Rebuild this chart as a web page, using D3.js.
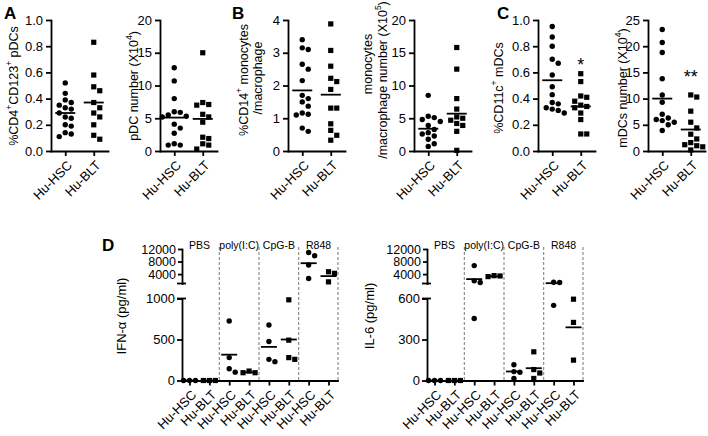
<!DOCTYPE html>
<html><head><meta charset="utf-8">
<script src="https://cdn.jsdelivr.net/npm/d3@7"></script>
<style>
body{margin:0;background:#fff}
svg text{font-family:"Liberation Sans",Arial,Helvetica,sans-serif;fill:#000}
</style>
</head><body><svg id="c" width="708" height="436"></svg>
<script>
// ---------- data ----------
const groups = ["Hu-HSC", "Hu-BLT"];
// A
const pdcPctHSC = [0.52,0.44,0.39,0.37,0.35,0.33,0.32,0.29,0.26,0.25,0.20,0.19,0.14,0.13,0.11];
const pdcPctBLT = [0.83,0.58,0.49,0.46,0.37,0.33,0.29,0.26,0.20,0.12,0.09];
const pdcPctMean = [0.29, 0.37];
const pdcNumHSC = [12.7,10.7,8.0,6.0,5.9,5.5,5.3,5.2,4.1,3.5,2.7,1.1,0.9,0.9];
const pdcNumBLT = [15.0,7.4,7.1,7.0,5.6,5.2,4.4,2.1,1.9,1.1,0.9,0.3];
const pdcNumMean = [5.1, 4.9];
// B
const monoPctHSC = [3.4,3.15,3.1,2.65,2.5,2.15,1.7,1.6,1.5,1.37,1.16,1.12,1.1,0.7,0.6];
const monoPctBLT = [3.88,3.07,2.59,2.22,2.12,1.88,1.31,1.31,0.83,0.63,0.48,0.33];
const monoPctMean = [1.85, 1.72];
const monoNumHSC = [8.5,5.3,5.1,4.8,4.5,3.9,3.3,2.8,2.6,2.3,1.8,1.1,0.7];
const monoNumBLT = [15.8,12.5,8.0,6.4,5.2,5.0,4.7,4.2,3.9,3.0,0.1];
const monoNumMean = [3.4, 5.7];
// C
const mdcPctHSC = [0.95,0.87,0.80,0.70,0.67,0.58,0.49,0.43,0.37,0.36,0.33,0.32,0.31,0.29];
const mdcPctBLT = [0.59,0.53,0.42,0.41,0.38,0.35,0.34,0.33,0.29,0.24,0.13,0.13];
const mdcPctMean = [0.54, 0.34];
const mdcNumHSC = [23.2,20.7,18.8,13.8,10.7,9.3,7.0,6.3,6.0,5.8,5.5,5.0,3.9];
const mdcNumBLT = [10.7,10.3,7.6,5.5,4.4,3.2,2.3,1.6,1.2,1.0,0.8,0.2];
const mdcNumMean = [10.0, 4.1];
// D
const stimuli = ["PBS", "poly(I:C)", "CpG-B", "R848"];
const ifnHSC = [[0,0,0],[725,279,143,102],[676,475,258,230],[10900,9830,6920,2600]];
const ifnBLT = [[0,0,0],[115,95,95],[984,492,279,258],[4750,4240,1520]];
const ifnLineHSC = [0, 315, 410, 7470];
const ifnLineBLT = [0, 100, 500, 3360];
const il6HSC = [[0,0,0],[6700,1840,1320,454],[115,65,60,15],[1400,1300,550]];
const il6BLT = [[0,0,0],[3500,3200,3400],[210,80,55,15],[595,425,149]];
const il6LineHSC = [0, 2400, 66, 1100];
const il6LineBLT = [0, 3300, 90, 389];
const upperTicks = [4000, 8000, 12000];
const ifnLowTicks = [0, 500, 1000];
const il6LowTicks = [0, 300, 600];

// ---------- helpers ----------
const svg = d3.select("#c");
const FONT = "Liberation Sans, Arial, Helvetica, sans-serif";

function swarm(vals, y, cx, step, minD) {
  const pts = vals.map((v, i) => ({v, i, y: y(v)})).sort((a, b) => a.y - b.y);
  const placed = [];
  const ks = [0, 1, -1, 2, -2, 3, -3, 4, -4];
  for (const p of pts) {
    for (const k of ks) {
      const x = cx + k * step;
      if (placed.every(q => Math.hypot(q.x - x, q.y - p.y) >= minD)) { p.x = x; break; }
    }
    if (p.x === undefined) p.x = cx;
    placed.push(p);
  }
  return placed;
}

function drawMarks(g, pts, shape) {
  if (shape === "circle") {
    g.selectAll(null).data(pts).join("circle")
      .attr("cx", d => d.x).attr("cy", d => d.y).attr("r", 2.7).attr("fill", "#000");
  } else {
    g.selectAll(null).data(pts).join("rect")
      .attr("x", d => d.x - 2.6).attr("y", d => d.y - 2.6)
      .attr("width", 5.2).attr("height", 5.2).attr("fill", "#000");
  }
}

function richText(sel, segs) {
  let prevSup = false;
  segs.forEach(s => {
    const t = sel.append("tspan").text(s[0]);
    if (s[1]) { t.attr("font-size", 8.5).attr("dy", -5); prevSup = true; }
    else if (prevSup) { t.attr("dy", 5); prevSup = false; }
  });
}

function styleAxis(g, fs) {
  g.attr("font-family", FONT).attr("font-size", fs);
  g.selectAll("path.domain").attr("stroke", "#000").attr("stroke-width", 1.8).attr("stroke-linecap", "square");
  g.selectAll(".tick line").attr("stroke", "#000").attr("stroke-width", 1.8);
  g.selectAll(".tick text").attr("fill", "#000");
}

function scatterPanel(c) {
  const g = svg.append("g");
  const yTop = 20, yBot = 151;
  const y = d3.scaleLinear().domain([0, c.max]).range([yBot, yTop]);
  const x = d3.scalePoint().domain(groups).range([c.x0, c.x0 + 57]).padding(0.5);
  const ay = g.append("g").attr("transform", `translate(${c.x0},0)`)
    .call(d3.axisLeft(y).tickValues(d3.range(0, c.max + 1e-9, c.step)).tickFormat(d3.format(c.fmt)).tickSize(5).tickSizeOuter(0).tickPadding(3));
  styleAxis(ay, 13);
  const ax = g.append("g").attr("transform", `translate(0,${yBot})`)
    .call(d3.axisBottom(x).tickSize(5).tickSizeOuter(0));
  styleAxis(ax, 13);
  ax.selectAll(".tick text").attr("text-anchor", "end").attr("dy", null).attr("y", null)
    .attr("transform", "translate(4,12) rotate(-45)").attr("dominant-baseline", "central");
  const sets = [c.hsc, c.blt];
  sets.forEach((vals, i) => {
    const pts = swarm(vals, y, x(groups[i]), 6, 5.8);
    drawMarks(g, pts, i === 0 ? "circle" : "square");
    g.append("line").attr("x1", x(groups[i]) - 10).attr("x2", x(groups[i]) + 10)
      .attr("y1", y(c.means[i])).attr("y2", y(c.means[i]))
      .attr("stroke", "#000").attr("stroke-width", 1.8);
  });
  c.title.forEach((segs, i) => {
    const t = g.append("text").attr("text-anchor", "middle").attr("dominant-baseline", "central")
      .attr("font-size", 12.5)
      .attr("transform", `translate(${c.titleX[i]},${c.titleY[i]}) rotate(-90)`);
    richText(t, segs);
  });
  if (c.star) {
    g.append("text").attr("x", x(groups[1])).attr("y", y(c.starVal)).attr("text-anchor", "middle")
      .attr("font-size", 18).attr("dy", "0.58em").text(c.star);
  }
}

scatterPanel({x0: 51, max: 1.0, step: 0.2, fmt: ".1f", hsc: pdcPctHSC, blt: pdcPctBLT, means: pdcPctMean,
  title: [[["%CD4"],["+",1],["CD123"],["+",1],[" pDCs"]]], titleX: [14], titleY: [86]});
scatterPanel({x0: 160, max: 20, step: 5, fmt: "d", hsc: pdcNumHSC, blt: pdcNumBLT, means: pdcNumMean,
  title: [[["pDC number (X10"],["4",1],[")"]]], titleX: [134], titleY: [86]});
scatterPanel({x0: 288, max: 4, step: 1, fmt: "d", hsc: monoPctHSC, blt: monoPctBLT, means: monoPctMean,
  title: [[["%CD14"],["+",1],[" monocytes"]], [["/macrophage"]]], titleX: [244, 258], titleY: [80, 78]});
scatterPanel({x0: 414, max: 20, step: 5, fmt: "d", hsc: monoNumHSC, blt: monoNumBLT, means: monoNumMean,
  title: [[["monocytes"]], [["/macrophage number (X10"],["5",1],[")"]]], titleX: [368, 383], titleY: [64, 80]});
scatterPanel({x0: 538, max: 1.0, step: 0.2, fmt: ".1f", hsc: mdcPctHSC, blt: mdcPctBLT, means: mdcPctMean,
  title: [[["%CD11c"],["+",1],[" mDCs"]]], titleX: [499], titleY: [88]},
  );
scatterPanel({x0: 648, max: 25, step: 5, fmt: "d", hsc: mdcNumHSC, blt: mdcNumBLT, means: mdcNumMean,
  title: [[["mDCs number (X10"],["4",1],[")"]]], titleX: [623], titleY: [88]});

// stars
(function(){
  const y1 = d3.scaleLinear().domain([0, 1]).range([151, 20]);
  const y2 = d3.scaleLinear().domain([0, 25]).range([151, 20]);
  const x1 = d3.scalePoint().domain(groups).range([538, 595]).padding(0.5);
  const x2 = d3.scalePoint().domain(groups).range([648, 705]).padding(0.5);
  svg.append("text").attr("x", x1("Hu-BLT")).attr("y", y1(0.69)).attr("dy", "0.58em").attr("text-anchor", "middle").attr("font-size", 18).text("*");
  svg.append("text").attr("x", x2("Hu-BLT")).attr("y", y2(15)).attr("dy", "0.58em").attr("text-anchor", "middle").attr("font-size", 18).text("**");
})();

// panel letters
[["A", 4, 19], ["B", 232, 19], ["C", 497, 19], ["D", 102, 251]].forEach(([t, x, y]) =>
  svg.append("text").attr("x", x).attr("y", y).attr("font-size", 17).attr("font-weight", "bold").text(t));

// ---------- D ----------
function brokenPanel(c) {
  const g = svg.append("g");
  const x0 = c.x0, xEnd = c.x0 + 156, yBase = 380.5;
  const yLow = d3.scaleLinear().domain([0, c.lowTicks[2]]).range([yBase, 298.5]);
  const yHigh = d3.scaleLinear().domain([1000, 12000]).range([283.5, 249]);
  const y = v => v <= c.lowTicks[2] ? yLow(v) : yHigh(Math.max(v, 1000));
  const keys = [];
  stimuli.forEach(s => groups.forEach(gr => keys.push(s + "|" + gr)));
  const x = d3.scalePoint().domain(keys).range([x0 + 7.5, x0 + 146.5]);

  // dashed separators
  const seps = stimuli.map((s, i) => i < 3 ? (x(s + "|Hu-BLT") + x(stimuli[i + 1] + "|Hu-HSC")) / 2 : xEnd);
  g.selectAll(null).data(seps).join("line")
    .attr("x1", d => d).attr("x2", d => d).attr("y1", 247).attr("y2", yBase)
    .attr("stroke", "#777").attr("stroke-width", 1).attr("stroke-dasharray", "3,2");
  // group labels
  g.selectAll(null).data(stimuli).join("text")
    .attr("x", s => (x(s + "|Hu-HSC") + x(s + "|Hu-BLT")) / 2).attr("y", 249)
    .attr("text-anchor", "middle").attr("font-size", 10.5).text(s => s);

  // axes
  const aHigh = g.append("g").attr("transform", `translate(${x0},0)`)
    .call(d3.axisLeft(yHigh).tickValues(upperTicks).tickFormat(d3.format("d")).tickSize(4).tickSizeOuter(0).tickPadding(2));
  styleAxis(aHigh, 12.5);
  const aLow = g.append("g").attr("transform", `translate(${x0},0)`)
    .call(d3.axisLeft(yLow).tickValues(c.lowTicks).tickFormat(d3.format("d")).tickSize(5).tickSizeOuter(0).tickPadding(2));
  styleAxis(aLow, 13);
  // break bars
  [283.5, 298.5].forEach(yy => g.append("line").attr("x1", x0 - 5).attr("x2", x0 + 4)
    .attr("y1", yy).attr("y2", yy).attr("stroke", "#000").attr("stroke-width", 1.8));
  const ax = g.append("g").attr("transform", `translate(0,${yBase})`)
    .call(d3.axisBottom(x).tickSize(5).tickSizeOuter(0).tickFormat(k => k.split("|")[1]));
  ax.select("path.domain").attr("d", `M${x0},0.5H${xEnd}`);
  styleAxis(ax, 13);
  ax.selectAll(".tick text").attr("text-anchor", "end").attr("dy", null).attr("y", null)
    .attr("transform", "translate(4,12) rotate(-45)").attr("dominant-baseline", "central");

  stimuli.forEach((s, si) => {
    [c.hsc[si], c.blt[si]].forEach((vals, gi) => {
      const cx = x(s + "|" + groups[gi]);
      const pts = swarm(vals, y, cx, 6, 5.8);
      drawMarks(g, pts, gi === 0 ? "circle" : "square");
      const lv = gi === 0 ? c.lineHSC[si] : c.lineBLT[si];
      g.append("line").attr("x1", cx - 8).attr("x2", cx + 8).attr("y1", y(lv)).attr("y2", y(lv))
        .attr("stroke", "#000").attr("stroke-width", 1.8);
    });
  });

  g.append("text").attr("text-anchor", "middle").attr("dominant-baseline", "central")
    .attr("font-size", 13).attr("transform", `translate(${c.titleX},316) rotate(-90)`).text(c.title);
}

brokenPanel({x0: 182, lowTicks: ifnLowTicks, hsc: ifnHSC, blt: ifnBLT, lineHSC: ifnLineHSC, lineBLT: ifnLineBLT,
  title: "IFN-α (pg/ml)", titleX: 121});
brokenPanel({x0: 427, lowTicks: il6LowTicks, hsc: il6HSC, blt: il6BLT, lineHSC: il6LineHSC, lineBLT: il6LineBLT,
  title: "IL-6 (pg/ml)", titleX: 369});
</script>
</body></html>
